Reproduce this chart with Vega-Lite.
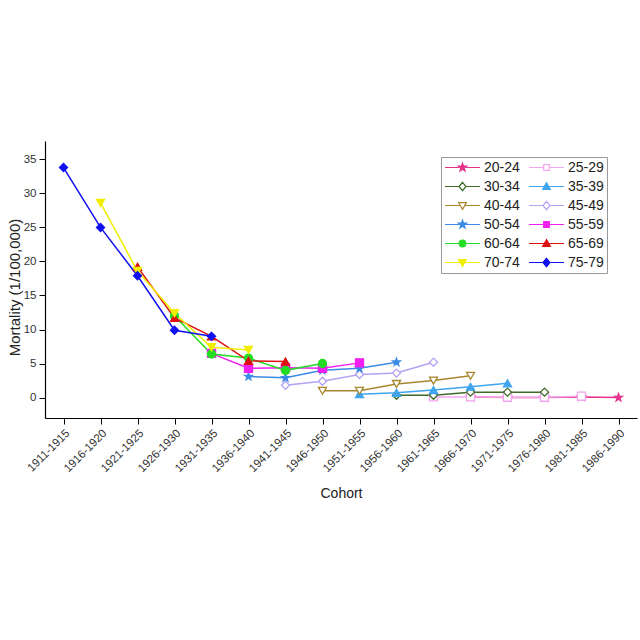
{
  "$schema": "https://vega.github.io/schema/vega-lite/v6.json",
  "width": 592,
  "height": 277,
  "autosize": "none",
  "padding": {"left": 45, "top": 141, "right": 3, "bottom": 222},
  "background": "white",
  "config": {
    "view": {"stroke": null},
    "font": "Liberation Sans",
    "axis": {"grid": false, "domainColor": "#000", "tickColor": "#000", "labelColor": "#333", "titleColor": "#222", "titleFontWeight": "normal", "labelFont": "Liberation Sans", "titleFont": "Liberation Sans", "tickSize": 6, "domainWidth": 1.2},
    "legend": {"labelFont": "Liberation Sans", "orient": "none", "legendX": 396, "legendY": 16, "columns": 2,
      "symbolSize": 1225, "clipHeight": 15, "rowPadding": 4, "columnPadding": 8,
      "labelFontSize": 14, "labelColor": "#222", "labelOffset": 3,
      "strokeColor": "#999", "padding": 3, "symbolStrokeWidth": 1.2}
  },
  "data": {"values": [
    {"cohort": "1966-1970", "age": "20-24", "v": 0.1},
    {"cohort": "1971-1975", "age": "20-24", "v": 0.0},
    {"cohort": "1976-1980", "age": "20-24", "v": 0.0},
    {"cohort": "1981-1985", "age": "20-24", "v": 0.1},
    {"cohort": "1986-1990", "age": "20-24", "v": 0.0},
    {"cohort": "1961-1965", "age": "25-29", "v": 0.1},
    {"cohort": "1966-1970", "age": "25-29", "v": 0.1},
    {"cohort": "1971-1975", "age": "25-29", "v": 0.05},
    {"cohort": "1976-1980", "age": "25-29", "v": 0.05},
    {"cohort": "1981-1985", "age": "25-29", "v": 0.2},
    {"cohort": "1956-1960", "age": "30-34", "v": 0.35},
    {"cohort": "1961-1965", "age": "30-34", "v": 0.35},
    {"cohort": "1966-1970", "age": "30-34", "v": 0.8},
    {"cohort": "1971-1975", "age": "30-34", "v": 0.8},
    {"cohort": "1976-1980", "age": "30-34", "v": 0.8},
    {"cohort": "1951-1955", "age": "35-39", "v": 0.5},
    {"cohort": "1956-1960", "age": "35-39", "v": 0.7},
    {"cohort": "1961-1965", "age": "35-39", "v": 1.1},
    {"cohort": "1966-1970", "age": "35-39", "v": 1.6},
    {"cohort": "1971-1975", "age": "35-39", "v": 2.1},
    {"cohort": "1946-1950", "age": "40-44", "v": 1.0},
    {"cohort": "1951-1955", "age": "40-44", "v": 1.0},
    {"cohort": "1956-1960", "age": "40-44", "v": 2.0},
    {"cohort": "1961-1965", "age": "40-44", "v": 2.5},
    {"cohort": "1966-1970", "age": "40-44", "v": 3.2},
    {"cohort": "1941-1945", "age": "45-49", "v": 1.8},
    {"cohort": "1946-1950", "age": "45-49", "v": 2.4},
    {"cohort": "1951-1955", "age": "45-49", "v": 3.4},
    {"cohort": "1956-1960", "age": "45-49", "v": 3.6},
    {"cohort": "1961-1965", "age": "45-49", "v": 5.2},
    {"cohort": "1936-1940", "age": "50-54", "v": 3.1},
    {"cohort": "1941-1945", "age": "50-54", "v": 2.9},
    {"cohort": "1946-1950", "age": "50-54", "v": 4.0},
    {"cohort": "1951-1955", "age": "50-54", "v": 4.3},
    {"cohort": "1956-1960", "age": "50-54", "v": 5.2},
    {"cohort": "1931-1935", "age": "55-59", "v": 6.5},
    {"cohort": "1936-1940", "age": "55-59", "v": 4.3},
    {"cohort": "1941-1945", "age": "55-59", "v": 4.4},
    {"cohort": "1946-1950", "age": "55-59", "v": 4.3},
    {"cohort": "1951-1955", "age": "55-59", "v": 5.1},
    {"cohort": "1926-1930", "age": "60-64", "v": 12.0},
    {"cohort": "1931-1935", "age": "60-64", "v": 6.4},
    {"cohort": "1936-1940", "age": "60-64", "v": 5.8},
    {"cohort": "1941-1945", "age": "60-64", "v": 4.0},
    {"cohort": "1946-1950", "age": "60-64", "v": 5.0},
    {"cohort": "1921-1925", "age": "65-69", "v": 19.2},
    {"cohort": "1926-1930", "age": "65-69", "v": 11.7},
    {"cohort": "1931-1935", "age": "65-69", "v": 9.0},
    {"cohort": "1936-1940", "age": "65-69", "v": 5.4},
    {"cohort": "1941-1945", "age": "65-69", "v": 5.3},
    {"cohort": "1916-1920", "age": "70-74", "v": 28.6},
    {"cohort": "1921-1925", "age": "70-74", "v": 18.6},
    {"cohort": "1926-1930", "age": "70-74", "v": 12.4},
    {"cohort": "1931-1935", "age": "70-74", "v": 7.4},
    {"cohort": "1936-1940", "age": "70-74", "v": 7.0},
    {"cohort": "1911-1915", "age": "75-79", "v": 33.8},
    {"cohort": "1916-1920", "age": "75-79", "v": 25.0},
    {"cohort": "1921-1925", "age": "75-79", "v": 17.9},
    {"cohort": "1926-1930", "age": "75-79", "v": 9.9},
    {"cohort": "1931-1935", "age": "75-79", "v": 9.0}
  ]},
  "encoding": {
    "x": {"field": "cohort", "type": "ordinal", "sort": null,
      "scale": {"type": "point", "padding": 0.5, "domain": ["1911-1915","1916-1920","1921-1925","1926-1930","1931-1935","1936-1940","1941-1945","1946-1950","1951-1955","1956-1960","1961-1965","1966-1970","1971-1975","1976-1980","1981-1985","1986-1990"]},
      "axis": {"title": "Cohort", "labelAngle": -45, "labelFontSize": 11.5, "labelPadding": 3, "labelDx": 5, "titleFontSize": 14, "titleY": 79, "titleBaseline": "alphabetic"}},
    "y": {"field": "v", "type": "quantitative",
      "scale": {"domain": [-3, 37.7], "nice": false, "zero": false},
      "axis": {"title": "Mortality (1/100,000)", "values": [0,5,10,15,20,25,30,35], "labelFontSize": 11.5, "labelPadding": 3, "titleFontSize": 15, "titleX": -31, "titleY": 146, "titleBaseline": "middle", "titleAngle": -90}}
  },
  "resolve": {"scale": {"color": "independent", "shape": "independent", "fill": "independent"}},
  "layer": [
    {
      "mark": {"type": "line", "strokeWidth": 1.5},
      "encoding": {
        "color": {"field": "age", "type": "nominal", "legend": null,
          "scale": {"domain": ["20-24","30-34","40-44","50-54","60-64","70-74","25-29","35-39","45-49","55-59","65-69","75-79"],
                    "range": ["#E6338A","#3D6B27","#A8862E","#3C8BE6","#25DC25","#F2EE00","#F2A6EE","#3FA6EE","#B6A2F2","#F020F0","#DD1010","#1010F0"]}}
      }
    },
    {
      "mark": {"type": "point", "filled": false, "size": 65, "strokeWidth": 1.3, "opacity": 1},
      "encoding": {
        "color": {"field": "age", "type": "nominal", "legend": null,
          "scale": {"domain": ["20-24","30-34","40-44","50-54","60-64","70-74","25-29","35-39","45-49","55-59","65-69","75-79"],
                    "range": ["#E6338A","#3D6B27","#A8862E","#3C8BE6","#25DC25","#F2EE00","#F2A6EE","#3FA6EE","#B6A2F2","#F020F0","#DD1010","#1010F0"]}},
        "shape": {"field": "age", "type": "nominal", "legend": null,
          "scale": {"domain": ["20-24","30-34","40-44","50-54","60-64","70-74","25-29","35-39","45-49","55-59","65-69","75-79"],
                    "range": ["M0,-1L0.235,-0.324L0.951,-0.309L0.38,0.124L0.588,0.809L0,0.4L-0.588,0.809L-0.38,0.124L-0.951,-0.309L-0.235,-0.324Z","diamond","triangle-down","M0,-1L0.235,-0.324L0.951,-0.309L0.38,0.124L0.588,0.809L0,0.4L-0.588,0.809L-0.38,0.124L-0.951,-0.309L-0.235,-0.324Z","circle","triangle-down","square","triangle-up","diamond","square","triangle-up","diamond"]}},
        "fill": {"field": "age", "type": "nominal", "legend": null,
          "scale": {"domain": ["20-24","30-34","40-44","50-54","60-64","70-74","25-29","35-39","45-49","55-59","65-69","75-79"],
                    "range": ["#E6338A","#FFFFFF","#FFFFFF","#3C8BE6","#25DC25","#F2EE00","#FFFFFF","#3FA6EE","#FFFFFF","#F020F0","#DD1010","#1010F0"]}}
      }
    },
    {
      "transform": [{"filter": "datum.v < -100"}],
      "mark": {"type": "point", "filled": false, "strokeWidth": 1.2, "opacity": 1},
      "encoding": {
        "color": {"field": "age", "type": "nominal",
          "legend": {"title": null, "labelExpr": "indexof(['25-29','35-39','45-49','55-59','65-69','75-79'], datum.label) >= 0 ? datum.label + '\u00a0\u00a0\u00a0\u00a0' : datum.label"},
          "scale": {"domain": ["20-24","30-34","40-44","50-54","60-64","70-74","25-29","35-39","45-49","55-59","65-69","75-79"],
                    "range": ["#E6338A","#3D6B27","#A8862E","#3C8BE6","#25DC25","#F2EE00","#F2A6EE","#3FA6EE","#B6A2F2","#F020F0","#DD1010","#1010F0"]}},
        "shape": {"field": "age", "type": "nominal",
          "legend": {"title": null, "labelExpr": "indexof(['25-29','35-39','45-49','55-59','65-69','75-79'], datum.label) >= 0 ? datum.label + '\u00a0\u00a0\u00a0\u00a0' : datum.label"},
          "scale": {"domain": ["20-24","30-34","40-44","50-54","60-64","70-74","25-29","35-39","45-49","55-59","65-69","75-79"],
                    "range": [
                      "M-1,0L-0.2,0M0.2,0L1,0M0,-0.25L0.059,-0.081L0.238,-0.077L0.095,0.031L0.147,0.202L0,0.1L-0.147,0.202L-0.095,0.031L-0.238,-0.077L-0.059,-0.081Z",
                      "M-1,0L-0.2,0M0.2,0L1,0M0,-0.24L0.2,0L0,0.24L-0.2,0Z",
                      "M-1,0L-0.13,0M0.13,0L1,0M0,0.22L0.22,-0.16L-0.22,-0.16Z",
                      "M-1,0L1,0M0,-0.25L0.059,-0.081L0.238,-0.077L0.095,0.031L0.147,0.202L0,0.1L-0.147,0.202L-0.095,0.031L-0.238,-0.077L-0.059,-0.081Z",
                      "M-1,0L1,0M0.19,0A0.19,0.19,0,1,1,-0.19,0A0.19,0.19,0,1,1,0.19,0Z",
                      "M-1,0L1,0M0,0.22L0.22,-0.16L-0.22,-0.16Z",
                      "M-1,0L-0.17,0M0.17,0L1,0M-0.16,-0.16L0.16,-0.16L0.16,0.16L-0.16,0.16Z",
                      "M-1,0L1,0M0,-0.22L0.22,0.16L-0.22,0.16Z",
                      "M-1,0L-0.2,0M0.2,0L1,0M0,-0.24L0.2,0L0,0.24L-0.2,0Z",
                      "M-1,0L1,0M-0.16,-0.16L0.16,-0.16L0.16,0.16L-0.16,0.16Z",
                      "M-1,0L1,0M0,-0.22L0.22,0.16L-0.22,0.16Z",
                      "M-1,0L1,0M0,-0.24L0.2,0L0,0.24L-0.2,0Z"]}},
        "fill": {"field": "age", "type": "nominal", "legend": null,
          "scale": {"domain": ["20-24","30-34","40-44","50-54","60-64","70-74","25-29","35-39","45-49","55-59","65-69","75-79"],
                    "range": ["#E6338A","#FFFFFF","#FFFFFF","#3C8BE6","#25DC25","#F2EE00","#FFFFFF","#3FA6EE","#FFFFFF","#F020F0","#DD1010","#1010F0"]}}
      }
    }
  ]
}
